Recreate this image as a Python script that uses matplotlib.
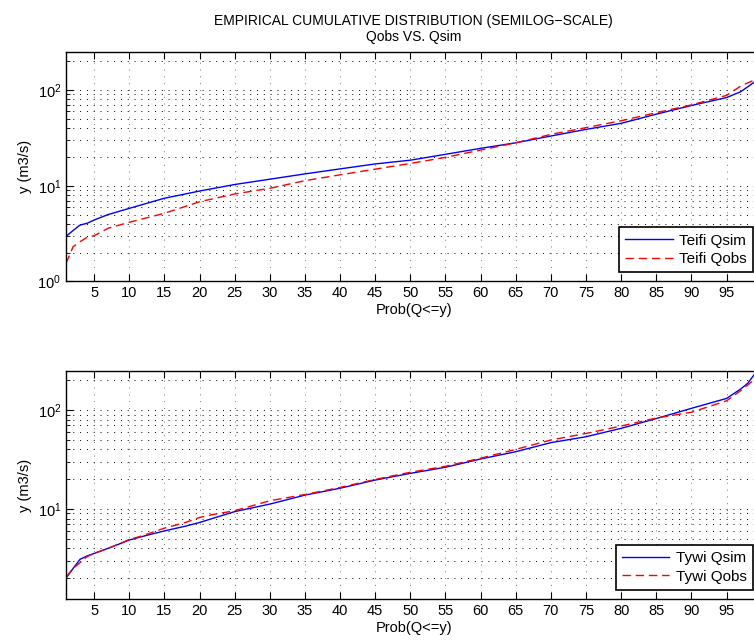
import matplotlib
matplotlib.use("Agg")
import matplotlib.pyplot as plt
from matplotlib.ticker import LogLocator, NullFormatter

plt.rcParams["font.family"] = ["Liberation Sans", "DejaVu Sans"]
plt.rcParams["mathtext.default"] = "regular"
plt.rcParams["font.size"] = 10

# Teifi
teifi_sim_x = [1, 2, 3, 4, 5, 7, 10, 15, 20, 25, 30, 35, 40, 45, 50, 55, 60, 65, 70, 75, 80, 85, 90, 95, 97, 98, 99]
teifi_sim_y = [2.95, 3.4, 3.88, 4.05, 4.38, 5.0, 5.8, 7.4, 8.8, 10.3, 11.7, 13.3, 15.0, 16.9, 18.5, 21.3, 24.6,
               28.1, 33.1, 38.8, 44.9, 56.0, 69.0, 83.5, 96.0, 108.0, 122.0]
teifi_obs_x = [1, 1.5, 2, 3, 4, 5, 7, 10, 15, 20, 25, 30, 35, 40, 45, 50, 55, 60, 65, 70, 75, 80, 85, 90, 95, 97, 99]
teifi_obs_y = [1.55, 1.87, 2.3, 2.6, 2.89, 3.0, 3.6, 4.15, 5.15, 6.8, 8.2, 9.4, 11.3, 13.0, 14.9, 17.1, 19.8, 23.6,
               28.1, 34.4, 40.5, 47.8, 58.0, 70.0, 88.0, 110.0, 128.0]

# Tywi
tywi_sim_x = [1, 2, 3, 4, 5, 7, 10, 12, 15, 18, 20, 25, 30, 35, 40, 45, 50, 55, 60, 65, 70, 75, 80, 85, 90, 95, 97, 98, 99]
tywi_sim_y = [2.0, 2.5, 3.1, 3.35, 3.55, 4.0, 4.85, 5.3, 6.0, 6.7, 7.3, 9.4, 11.2, 13.8, 16.2, 19.6, 22.9, 26.4,
              32.0, 37.9, 46.8, 53.7, 65.3, 82.0, 104.0, 131.0, 163.0, 186.0, 231.0]
tywi_obs_x = [1, 2, 3, 4, 5, 7, 10, 12, 15, 18, 20, 22, 25, 30, 35, 40, 45, 50, 55, 60, 65, 70, 75, 80, 85, 90, 95, 97, 99]
tywi_obs_y = [2.05, 2.5, 2.87, 3.3, 3.55, 4.0, 4.9, 5.4, 6.4, 7.3, 8.2, 8.8, 9.6, 12.1, 14.0, 16.5, 19.9, 23.5, 27.0,
              32.6, 40.0, 49.8, 58.0, 68.9, 83.0, 95.0, 124.0, 157.0, 204.0]

x_ticks = list(range(5, 100, 5))

fig = plt.figure(figsize=(7.54, 6.42), dpi=100)
ax1 = fig.add_axes([66 / 754, 1 - 281.4 / 642, 695.7 / 754, 229.4 / 642])
ax2 = fig.add_axes([66 / 754, 1 - 599 / 642, 695.7 / 754, 228 / 642])

grid_style = dict(linestyle=(0, (1, 6)), linewidth=0.7)


def style_axis(ax, ylim):
    ax.set_yscale("log")
    ax.set_xlim(1, 100)
    ax.set_ylim(*ylim)
    ax.set_xticks(x_ticks)
    ax.yaxis.set_major_locator(LogLocator(base=10))
    ax.yaxis.set_minor_locator(LogLocator(base=10, subs=range(2, 10)))
    ax.yaxis.set_minor_formatter(NullFormatter())
    ax.tick_params(which="both", direction="in", top=True, right=True)
    ax.tick_params(which="major", length=5, labelsize=10.5)
    ax.tick_params(which="minor", length=3)
    ax.grid(True, which="major", axis="x", color="0.45", **grid_style)
    ax.grid(True, which="both", axis="y", color="black", **grid_style)
    for s in ax.spines.values():
        s.set_linewidth(1.0)
    ax.set_xlabel("Prob(Q<=y)", fontsize=10.5, labelpad=2)
    ax.set_ylabel("y (m3/s)", fontsize=10.5, labelpad=4)


ax1.plot(teifi_sim_x, teifi_sim_y, color="#0000ff", lw=1.0, label="Teifi Qsim")
ax1.plot(teifi_obs_x, teifi_obs_y, color="#ff0000", lw=1.0, dashes=(6, 3.5), label="Teifi Qobs")
style_axis(ax1, (1, 250))
ax1.set_title("EMPIRICAL CUMULATIVE DISTRIBUTION (SEMILOG\u2212SCALE)\nQobs VS. Qsim", fontsize=10, pad=8)

ax2.plot(tywi_sim_x, tywi_sim_y, color="#0000ff", lw=1.0, label="Tywi Qsim")
ax2.plot(tywi_obs_x, tywi_obs_y, color="#ff0000", lw=1.0, dashes=(6, 3.5), label="Tywi Qobs")
style_axis(ax2, (1.23, 248))

for ax in (ax1, ax2):
    leg = ax.legend(loc="lower right", fontsize=11, fancybox=False, framealpha=1, edgecolor="black",
                    handlelength=3.1, handletextpad=0.4, borderaxespad=0.6, labelspacing=0.3, borderpad=0.4)
    leg.get_frame().set_linewidth(1.2)

fig.savefig("out.png", dpi=100)
